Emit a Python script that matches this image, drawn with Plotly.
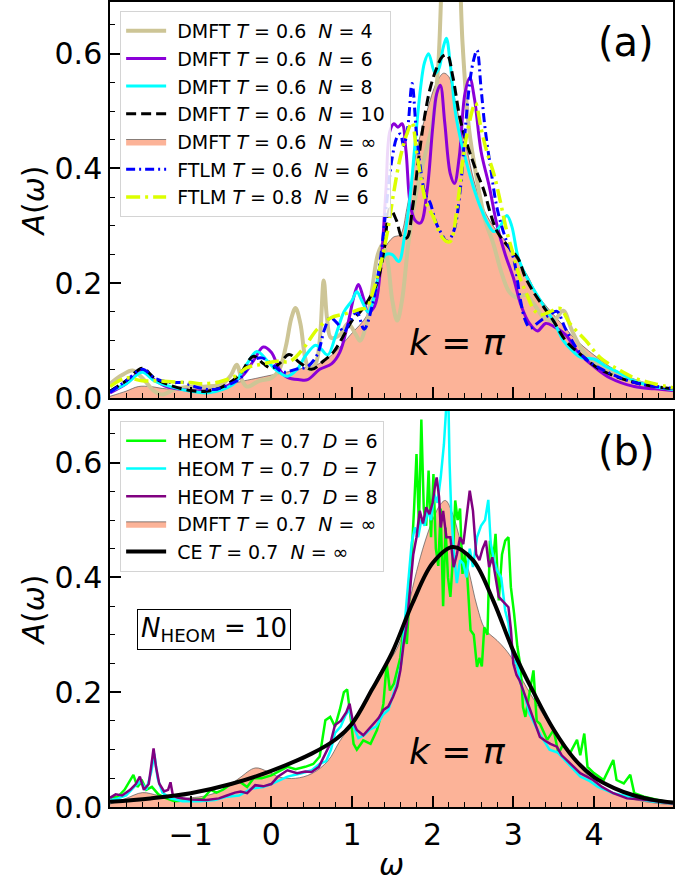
import plotly.graph_objects as go

# ---------------- Panel (a): T = 0.6 spectra at k = pi ----------------
w_dmft4 = [-2.0, -1.85, -1.72, -1.6, -1.45, -1.35, -1.2, -1.0, -0.8, -0.6, -0.5, -0.43, -0.36, -0.3, -0.15,
           0.0, 0.1, 0.18, 0.25, 0.3, 0.36, 0.42, 0.47, 0.55, 0.6, 0.65, 0.69, 0.74, 0.85, 0.95, 1.05, 1.1,
           1.18, 1.25, 1.32, 1.38, 1.44, 1.5, 1.56, 1.62, 1.7, 1.8, 1.9, 2.0, 2.07, 2.15, 2.22, 2.3, 2.37,
           2.45, 2.55, 2.65, 2.75, 2.85, 2.95, 3.05, 3.15, 3.25, 3.38, 3.5, 3.62, 3.72, 3.85, 4.0, 4.2, 4.5,
           4.75, 4.98]
a_dmft4 = [0.025, 0.040, 0.048, 0.035, 0.012, 0.006, 0.015, 0.020, 0.020, 0.025, 0.040, 0.058, 0.030, 0.020, 0.030,
           0.035, 0.050, 0.090, 0.140, 0.157, 0.130, 0.070, 0.050, 0.060, 0.100, 0.205, 0.140, 0.105, 0.110, 0.130, 0.110, 0.100,
           0.130, 0.190, 0.250, 0.268, 0.240, 0.170, 0.135, 0.170, 0.270, 0.360, 0.420, 0.480, 0.580, 0.820, 0.720, 0.850, 0.620,
           0.470, 0.380, 0.310, 0.270, 0.220, 0.185, 0.175, 0.180, 0.165, 0.140, 0.135, 0.152, 0.120, 0.085, 0.062, 0.045, 0.030,
           0.020, 0.013]

w_dmft6 = [-2.0, -1.8, -1.6, -1.45, -1.3, -1.1, -0.9, -0.7, -0.5, -0.35, -0.22, -0.1, 0.0, 0.1, 0.2, 0.35, 0.45,
           0.6, 0.75, 0.85, 0.95, 1.03, 1.08, 1.14, 1.2, 1.28, 1.35, 1.42, 1.47, 1.52, 1.57, 1.62, 1.67, 1.72,
           1.78, 1.85, 1.93, 2.0, 2.05, 2.095, 2.15, 2.22, 2.27, 2.33, 2.4, 2.46, 2.52, 2.6, 2.7, 2.8, 2.9,
           3.0, 3.1, 3.2, 3.3, 3.4, 3.5, 3.65, 3.8, 4.0, 4.2, 4.5, 4.75, 4.98]
a_dmft6 = [0.009, 0.025, 0.047, 0.032, 0.020, 0.015, 0.012, 0.013, 0.025, 0.040, 0.065, 0.089, 0.080, 0.050, 0.036, 0.032, 0.032,
           0.050, 0.060, 0.080, 0.130, 0.180, 0.198, 0.175, 0.150, 0.160, 0.220, 0.360, 0.465, 0.478, 0.472, 0.478, 0.430, 0.340,
           0.310, 0.305, 0.360, 0.470, 0.530, 0.545, 0.480, 0.390, 0.374, 0.420, 0.530, 0.558, 0.520, 0.430, 0.370, 0.300, 0.250,
           0.210, 0.160, 0.130, 0.117, 0.130, 0.125, 0.110, 0.080, 0.055, 0.035, 0.020, 0.016, 0.013]

w_dmft8 = [-2.0, -1.8, -1.6, -1.45, -1.25, -1.0, -0.8, -0.6, -0.45, -0.3, -0.18, -0.05, 0.05, 0.2, 0.32, 0.43, 0.55,
           0.62, 0.7, 0.8, 0.9, 1.0, 1.06, 1.12, 1.2, 1.28, 1.35, 1.42, 1.5, 1.58, 1.65, 1.72, 1.78, 1.85, 1.9,
           1.95, 2.03, 2.08, 2.13, 2.17, 2.22, 2.28, 2.34, 2.42, 2.5, 2.6, 2.68, 2.76, 2.84, 2.92, 2.98, 3.06,
           3.15, 3.25, 3.38, 3.5, 3.62, 3.75, 3.85, 4.0, 4.15, 4.3, 4.5, 4.75, 4.98]
a_dmft8 = [0.012, 0.025, 0.045, 0.030, 0.020, 0.012, 0.009, 0.015, 0.027, 0.060, 0.081, 0.065, 0.050, 0.038, 0.050, 0.075, 0.092,
           0.085, 0.075, 0.110, 0.150, 0.170, 0.185, 0.170, 0.150, 0.180, 0.230, 0.250, 0.250, 0.238, 0.280, 0.350, 0.440, 0.540, 0.585,
           0.600, 0.566, 0.575, 0.610, 0.627, 0.580, 0.500, 0.455, 0.410, 0.370, 0.330, 0.305, 0.290, 0.300, 0.318, 0.300, 0.245,
           0.215, 0.190, 0.160, 0.134, 0.100, 0.080, 0.070, 0.068, 0.055, 0.045, 0.030, 0.020, 0.015]

w_dmft10 = [-2.0, -1.8, -1.6, -1.45, -1.25, -1.0, -0.8, -0.6, -0.4, -0.22, -0.1, 0.0, 0.1, 0.22, 0.35, 0.5, 0.65,
            0.77, 0.9, 1.0, 1.1, 1.2, 1.31, 1.4, 1.47, 1.55, 1.62, 1.68, 1.75, 1.82, 1.9, 1.97, 2.05, 2.12, 2.18,
            2.25, 2.34, 2.43, 2.53, 2.64, 2.72, 2.8, 2.93, 3.06, 3.15, 3.25, 3.38, 3.5, 3.65, 3.86, 4.05, 4.3,
            4.6, 4.98]
a_dmft10 = [0.012, 0.030, 0.052, 0.035, 0.022, 0.013, 0.012, 0.020, 0.040, 0.073, 0.060, 0.052, 0.060, 0.076, 0.062, 0.050, 0.065,
            0.080, 0.110, 0.135, 0.150, 0.170, 0.200, 0.260, 0.330, 0.310, 0.280, 0.279, 0.330, 0.410, 0.490, 0.540, 0.575, 0.595, 0.598,
            0.560, 0.487, 0.441, 0.400, 0.360, 0.320, 0.290, 0.265, 0.243, 0.210, 0.185, 0.158, 0.134, 0.100, 0.073, 0.052, 0.036,
            0.024, 0.016]

w_dmft_inf_a = [-2.0, -1.8, -1.65, -1.5, -1.3, -1.0, -0.7, -0.4, -0.2, 0.0, 0.25, 0.42, 0.58, 0.79, 0.98, 1.19, 1.3,
                1.39, 1.51, 1.6, 1.68, 1.8, 1.93, 2.05, 2.136, 2.2, 2.26, 2.34, 2.43, 2.51, 2.63, 2.75, 2.92, 3.05,
                3.17, 3.3, 3.5, 3.66, 3.75, 4.0, 4.25, 4.5, 4.75, 4.98]
a_dmft_inf_a = [0.003, 0.012, 0.020, 0.020, 0.016, 0.016, 0.017, 0.028, 0.034, 0.040, 0.047, 0.053, 0.059, 0.080, 0.110, 0.145, 0.200,
                0.256, 0.280, 0.285, 0.330, 0.430, 0.500, 0.550, 0.566, 0.560, 0.530, 0.480, 0.430, 0.380, 0.330, 0.300, 0.270, 0.240,
                0.215, 0.180, 0.145, 0.120, 0.105, 0.075, 0.050, 0.033, 0.022, 0.014]

w_ftlm06 = [-2.0, -1.8, -1.6, -1.45, -1.25, -1.1, -0.9, -0.7, -0.5, -0.38, -0.24, -0.12, 0.0, 0.15, 0.3, 0.45, 0.57,
            0.66, 0.73, 0.82, 0.9, 0.98, 1.06, 1.15, 1.25, 1.35, 1.43, 1.5, 1.56, 1.6, 1.64, 1.69, 1.745, 1.8,
            1.86, 1.91, 1.97, 2.03, 2.095, 2.18, 2.26, 2.34, 2.4, 2.46, 2.51, 2.55, 2.6, 2.65, 2.72, 2.8, 2.9,
            3.0, 3.09, 3.15, 3.21, 3.33, 3.45, 3.54, 3.65, 3.86, 4.1, 4.5, 4.98]
a_ftlm06 = [0.010, 0.030, 0.050, 0.035, 0.027, 0.027, 0.018, 0.015, 0.025, 0.035, 0.064, 0.070, 0.060, 0.045, 0.050, 0.055, 0.076,
            0.120, 0.140, 0.130, 0.115, 0.135, 0.150, 0.120, 0.160, 0.240, 0.340, 0.420, 0.455, 0.460, 0.440, 0.470, 0.548, 0.460,
            0.390, 0.354, 0.340, 0.310, 0.290, 0.273, 0.290, 0.360, 0.460, 0.550, 0.590, 0.606, 0.540, 0.470, 0.400, 0.330, 0.280,
            0.245, 0.170, 0.135, 0.122, 0.134, 0.145, 0.151, 0.120, 0.073, 0.050, 0.027, 0.017]

w_ftlm08 = [-2.0, -1.8, -1.6, -1.4, -1.2, -1.0, -0.85, -0.65, -0.45, -0.3, -0.12, 0.07, 0.23, 0.4, 0.57, 0.74, 0.86,
            1.0, 1.1, 1.18, 1.27, 1.35, 1.44, 1.52, 1.6, 1.68, 1.744, 1.8, 1.86, 1.92, 2.01, 2.1, 2.17, 2.22,
            2.31, 2.38, 2.44, 2.53, 2.6, 2.67, 2.76, 2.84, 2.92, 3.0, 3.08, 3.17, 3.25, 3.33, 3.45, 3.58, 3.7,
            3.9, 4.08, 4.3, 4.5, 4.75, 4.98]
a_ftlm08 = [0.020, 0.035, 0.030, 0.030, 0.028, 0.027, 0.025, 0.028, 0.038, 0.053, 0.059, 0.064, 0.064, 0.087, 0.120, 0.140, 0.145,
            0.150, 0.155, 0.157, 0.190, 0.230, 0.290, 0.360, 0.420, 0.460, 0.480, 0.430, 0.380, 0.340, 0.315, 0.284, 0.273, 0.273,
            0.340, 0.420, 0.470, 0.514, 0.470, 0.430, 0.390, 0.342, 0.290, 0.250, 0.210, 0.180, 0.155, 0.145, 0.150, 0.156, 0.130,
            0.100, 0.070, 0.050, 0.035, 0.025, 0.018]

# ---------------- Panel (b): T = 0.7 spectra at k = pi ----------------
w_heom6 = [-2.0, -1.9, -1.82, -1.76, -1.71, -1.66, -1.6, -1.55, -1.48, -1.4, -1.3, -1.2, -1.0, -0.85, -0.75, -0.68,
           -0.6, -0.5, -0.4, -0.3, -0.22, -0.12, 0.0, 0.1, 0.2, 0.3, 0.42, 0.52, 0.6, 0.67, 0.73, 0.79, 0.85,
           0.9, 0.94, 0.98, 1.02, 1.06, 1.14, 1.23, 1.31, 1.36, 1.39, 1.43, 1.47, 1.52, 1.56, 1.6, 1.64, 1.68,
           1.71, 1.74, 1.77, 1.8, 1.83, 1.86, 1.89, 1.92, 1.95, 1.98, 2.01, 2.04, 2.07, 2.1, 2.13, 2.16, 2.19,
           2.22, 2.25, 2.28, 2.31, 2.34, 2.37, 2.4, 2.43, 2.47, 2.51, 2.55, 2.58, 2.61, 2.64, 2.68, 2.71, 2.75,
           2.78, 2.82, 2.86, 2.9, 2.94, 2.97, 3.01, 3.05, 3.09, 3.12, 3.15, 3.2, 3.25, 3.29, 3.33, 3.42, 3.5,
           3.56, 3.62, 3.7, 3.79, 3.83, 3.88, 3.92, 4.0, 4.12, 4.24, 4.28, 4.37, 4.45, 4.5, 4.62, 4.8, 4.98]
a_heom6 = [0.016, 0.018, 0.030, 0.045, 0.056, 0.035, 0.045, 0.030, 0.035, 0.022, 0.015, 0.010, 0.012, 0.014, 0.030, 0.025,
           0.030, 0.040, 0.045, 0.035, 0.050, 0.050, 0.055, 0.062, 0.070, 0.066, 0.070, 0.075, 0.088, 0.151, 0.157, 0.140, 0.170,
           0.200, 0.205, 0.160, 0.110, 0.100, 0.116, 0.110, 0.134, 0.160, 0.180, 0.250, 0.203, 0.215, 0.240, 0.261, 0.314, 0.284,
           0.360, 0.430, 0.520, 0.615, 0.490, 0.675, 0.520, 0.490, 0.586, 0.470, 0.580, 0.450, 0.420, 0.520, 0.350, 0.487, 0.400,
           0.366, 0.430, 0.534, 0.500, 0.520, 0.406, 0.440, 0.400, 0.308, 0.300, 0.244, 0.260, 0.245, 0.313, 0.300, 0.464, 0.430,
           0.476, 0.360, 0.440, 0.464, 0.470, 0.383, 0.337, 0.280, 0.244, 0.174, 0.157, 0.198, 0.238, 0.150, 0.145, 0.117, 0.134,
           0.093, 0.110, 0.093, 0.117, 0.090, 0.128, 0.070, 0.059, 0.047, 0.082, 0.047, 0.041, 0.056, 0.024, 0.018, 0.012, 0.006]

w_heom7 = [-2.0, -1.9, -1.8, -1.7, -1.62, -1.55, -1.49, -1.45, -1.41, -1.35, -1.25, -1.1, -0.9, -0.7, -0.55, -0.4,
           -0.25, -0.1, 0.0, 0.2, 0.35, 0.5, 0.6, 0.68, 0.74, 0.79, 0.86, 0.92, 0.97, 1.02, 1.08, 1.15, 1.22,
           1.3, 1.38, 1.45, 1.52, 1.56, 1.61, 1.66, 1.7, 1.74, 1.78, 1.82, 1.86, 1.9, 1.94, 1.98, 2.02, 2.06,
           2.1, 2.14, 2.17, 2.19, 2.21, 2.23, 2.26, 2.3, 2.34, 2.38, 2.42, 2.46, 2.5, 2.55, 2.6, 2.65, 2.69,
           2.72, 2.76, 2.8, 2.85, 2.9, 2.94, 2.97, 3.01, 3.04, 3.08, 3.13, 3.2, 3.28, 3.36, 3.45, 3.55, 3.65,
           3.75, 3.83, 3.95, 4.05, 4.24, 4.45, 4.7, 4.98]
a_heom7 = [0.012, 0.015, 0.020, 0.035, 0.045, 0.030, 0.060, 0.093, 0.050, 0.025, 0.015, 0.010, 0.010, 0.012, 0.018, 0.020,
           0.032, 0.035, 0.040, 0.053, 0.058, 0.064, 0.075, 0.080, 0.100, 0.129, 0.140, 0.160, 0.170, 0.140, 0.120, 0.125, 0.135,
           0.140, 0.160, 0.169, 0.200, 0.215, 0.250, 0.330, 0.390, 0.460, 0.487, 0.470, 0.500, 0.490, 0.516, 0.500, 0.545, 0.530,
           0.574, 0.632, 0.700, 0.750, 0.600, 0.516, 0.447, 0.390, 0.430, 0.424, 0.400, 0.450, 0.418, 0.470, 0.490, 0.500, 0.535,
           0.460, 0.430, 0.412, 0.400, 0.342, 0.320, 0.284, 0.250, 0.256, 0.220, 0.200, 0.163, 0.140, 0.120, 0.100, 0.095, 0.080,
           0.065, 0.053, 0.045, 0.035, 0.024, 0.018, 0.010, 0.006]

w_heom8 = [-2.0, -1.93, -1.85, -1.75, -1.68, -1.63, -1.58, -1.52, -1.49, -1.46, -1.43, -1.39, -1.33, -1.28, -1.25,
           -1.22, -1.15, -1.0, -0.8, -0.65, -0.55, -0.45, -0.38, -0.3, -0.2, -0.1, 0.0, 0.08, 0.2, 0.32, 0.42,
           0.5, 0.59, 0.67, 0.73, 0.79, 0.86, 0.93, 0.97, 1.01, 1.06, 1.14, 1.2, 1.27, 1.33, 1.39, 1.45, 1.51,
           1.56, 1.6, 1.64, 1.68, 1.72, 1.76, 1.8, 1.84, 1.88, 1.92, 1.96, 2.0, 2.03, 2.05, 2.08, 2.1, 2.13,
           2.17, 2.22, 2.26, 2.3, 2.34, 2.38, 2.42, 2.46, 2.5, 2.54, 2.58, 2.62, 2.66, 2.7, 2.74, 2.78, 2.82,
           2.86, 2.9, 2.94, 2.97, 3.0, 3.04, 3.08, 3.13, 3.2, 3.25, 3.33, 3.4, 3.46, 3.54, 3.6, 3.66, 3.75,
           3.83, 3.99, 4.1, 4.24, 4.41, 4.66, 4.98]
a_heom8 = [0.016, 0.022, 0.020, 0.030, 0.040, 0.053, 0.030, 0.040, 0.070, 0.102, 0.070, 0.041, 0.027, 0.030, 0.043,
           0.020, 0.016, 0.013, 0.012, 0.015, 0.020, 0.025, 0.027, 0.024, 0.038, 0.036, 0.040, 0.053, 0.064, 0.059, 0.062,
           0.061, 0.070, 0.093, 0.110, 0.143, 0.150, 0.165, 0.180, 0.150, 0.134, 0.125, 0.135, 0.145, 0.155, 0.169, 0.175, 0.192,
           0.210, 0.238, 0.284, 0.319, 0.378, 0.440, 0.470, 0.516, 0.494, 0.522, 0.510, 0.530, 0.560, 0.574, 0.540, 0.487, 0.516,
           0.470, 0.470, 0.418, 0.440, 0.470, 0.458, 0.500, 0.551, 0.516, 0.440, 0.430, 0.450, 0.464, 0.418, 0.435, 0.400, 0.366,
           0.360, 0.354, 0.348, 0.310, 0.250, 0.230, 0.220, 0.200, 0.172, 0.151, 0.122, 0.115, 0.110, 0.105, 0.090, 0.082, 0.070,
           0.059, 0.047, 0.035, 0.024, 0.015, 0.012, 0.006]

w_dmft_inf_b = [-2.0, -1.8, -1.6, -1.4, -1.2, -1.0, -0.8, -0.6, -0.4, -0.2, -0.05, 0.1, 0.3, 0.5, 0.7, 0.85, 1.0,
                1.2, 1.35, 1.5, 1.6, 1.7, 1.8, 1.9, 2.0, 2.1, 2.16, 2.25, 2.35, 2.45, 2.55, 2.65, 2.8, 2.9, 3.0,
                3.1, 3.2, 3.4, 3.6, 3.8, 4.0, 4.25, 4.5, 4.75, 4.98]
a_dmft_inf_b = [0.005, 0.015, 0.025, 0.020, 0.015, 0.016, 0.020, 0.030, 0.050, 0.068, 0.062, 0.052, 0.050, 0.058, 0.080, 0.115, 0.145,
                0.190, 0.235, 0.262, 0.290, 0.350, 0.410, 0.460, 0.500, 0.528, 0.534, 0.510, 0.460, 0.410, 0.350, 0.310, 0.290, 0.275, 0.255,
                0.225, 0.200, 0.155, 0.115, 0.075, 0.045, 0.024, 0.013, 0.007, 0.004]

w_ce = [-2.0, -1.5, -1.0, -0.5, 0.0, 0.5, 0.8, 1.0, 1.25, 1.5, 1.75, 2.0, 2.25, 2.5, 2.75, 3.0, 3.25, 3.5, 3.75,
        4.0, 4.25, 4.5, 4.75, 4.98]
a_ce = [0.009, 0.015, 0.024, 0.040, 0.063, 0.093, 0.118, 0.145, 0.205, 0.270, 0.355, 0.425, 0.453, 0.430, 0.360, 0.272,
        0.200, 0.135, 0.085, 0.052, 0.033, 0.020, 0.012, 0.008]

x_ticks = [-1, 0, 1, 2, 3, 4]
y_ticks = [0.0, 0.2, 0.4, 0.6]

FONT = "DejaVu Sans"
SALMON = "#fcb398"
SP = "\u00a0\u00a0"
LEAD = "\u00a0"

fig = go.Figure()


def line(x, y, name, color, width, legend, rank, axes, dash="solid", shape="spline"):
    fig.add_trace(go.Scatter(
        x=x, y=y, mode="lines", name=LEAD + name, legend=legend, legendrank=rank, legendgroup=name,
        line=dict(color=color, width=width, dash=dash, shape=shape),
        xaxis=axes[0], yaxis=axes[1], hoverinfo="skip"))


def filled(x, y, name, legend, rank, axes):
    fig.add_trace(go.Scatter(
        x=x, y=y, mode="lines", name=LEAD + name, legend=legend, legendrank=rank, legendgroup=name,
        fill="tozeroy", fillcolor=SALMON, line=dict(color="#555555", width=0.7, shape="spline"),
        xaxis=axes[0], yaxis=axes[1], hoverinfo="skip"))


A = ("x", "y")
B = ("x2", "y2")

# panel (a)
filled(w_dmft_inf_a, a_dmft_inf_a, f"DMFT <i>T</i> = 0.6{SP}<i>N</i> = ∞", "legend", 5, A)
line(w_dmft4, a_dmft4, f"DMFT <i>T</i> = 0.6{SP}<i>N</i> = 4", "#cdc596", 4, "legend", 1, A)
line(w_dmft6, a_dmft6, f"DMFT <i>T</i> = 0.6{SP}<i>N</i> = 6", "#8b00d8", 3, "legend", 2, A)
line(w_dmft8, a_dmft8, f"DMFT <i>T</i> = 0.6{SP}<i>N</i> = 8", "#00ffff", 3, "legend", 3, A)
line(w_dmft10, a_dmft10, f"DMFT <i>T</i> = 0.6{SP}<i>N</i> = 10", "black", 3, "legend", 4, A, dash="10px,5px")
line(w_ftlm06, a_ftlm06, f"FTLM <i>T</i> = 0.6{SP}<i>N</i> = 6", "#0000ff", 3, "legend", 6, A, dash="9px,4px,2px,4px")
line(w_ftlm08, a_ftlm08, f"FTLM <i>T</i> = 0.8{SP}<i>N</i> = 6", "#dcff00", 3.5, "legend", 7, A, dash="14px,5px,3px,5px")

# panel (b)
filled(w_dmft_inf_b, a_dmft_inf_b, f"DMFT <i>T</i> = 0.7{SP}<i>N</i> = ∞", "legend2", 4, B)
line(w_heom6, a_heom6, f"HEOM <i>T</i> = 0.7{SP}<i>D</i> = 6", "#00ff00", 2.5, "legend2", 1, B, shape="linear")
line(w_heom7, a_heom7, f"HEOM <i>T</i> = 0.7{SP}<i>D</i> = 7", "#00ffff", 2.5, "legend2", 2, B, shape="linear")
line(w_heom8, a_heom8, f"HEOM <i>T</i> = 0.7{SP}<i>D</i> = 8", "#800080", 2.5, "legend2", 3, B, shape="linear")
line(w_ce, a_ce, f"CE <i>T</i> = 0.7{SP}<i>N</i> = ∞", "black", 4, "legend2", 5, B)

axis_common = dict(
    showline=True, linecolor="black", linewidth=1.5, mirror=True,
    ticks="inside", ticklen=11, tickwidth=1.5, tickcolor="black",
    showgrid=False, zeroline=False,
    tickfont=dict(family=FONT, size=30, color="black"),
)

x_common = dict(axis_common, range=[-2.0, 4.98], tickvals=x_ticks,
                minor=dict(ticks="inside", ticklen=5, tickwidth=1, tickcolor="black", dtick=0.2, tick0=0))
y_common = dict(axis_common, range=[0, 0.69], tickvals=y_ticks, tickformat=".1f", ticklabelstandoff=0,
                minor=dict(ticks="inside", ticklen=5, tickwidth=1, tickcolor="black", dtick=0.05, tick0=0),
                title=dict(text="<i>A</i>(<i>ω</i>)", font=dict(family=FONT, size=30, color="black"), standoff=1))

legend_common = dict(
    font=dict(family=FONT, size=19, color="black"),
    bgcolor="rgba(255,255,255,0.85)", bordercolor="#d4d4d4", borderwidth=1,
    xanchor="left", yanchor="top", itemwidth=40, tracegroupgap=0, traceorder="grouped",
)

fig.update_layout(
    width=696, height=882,
    margin=dict(l=110, r=23, t=0, b=75),
    paper_bgcolor="white", plot_bgcolor="white",
    font=dict(family=FONT, color="black"),
    xaxis=dict(x_common, anchor="y", showticklabels=False),
    yaxis=dict(y_common, anchor="x", domain=[0.508, 1.0]),
    xaxis2=dict(x_common, anchor="y2", matches="x",
                title=dict(text="<i>ω</i>", font=dict(family=FONT, size=30, color="black"), standoff=8)),
    yaxis2=dict(y_common, anchor="x2", domain=[0.0, 0.492]),
    legend=dict(legend_common, x=0.018, y=0.989),
    legend2=dict(legend_common, x=0.018, y=0.4796),
    showlegend=True,
)

fig.add_annotation(x=4.40, y=0.621, xref="x", yref="y", text="(a)", showarrow=False,
                   font=dict(family=FONT, size=40, color="black"))
fig.add_annotation(x=4.40, y=0.621, xref="x2", yref="y2", text="(b)", showarrow=False,
                   font=dict(family=FONT, size=40, color="black"))
fig.add_annotation(x=2.31, y=0.097, xref="x", yref="y", text="<i>k</i> = <i>π</i>", showarrow=False,
                   font=dict(family=FONT, size=36, color="black"))
fig.add_annotation(x=2.31, y=0.096, xref="x2", yref="y2", text="<i>k</i> = <i>π</i>", showarrow=False,
                   font=dict(family=FONT, size=36, color="black"))
fig.add_annotation(x=-0.707, y=0.31, xref="x2", yref="y2",
                   text="<i>N</i><sub>HEOM</sub> = 10", showarrow=False,
                   font=dict(family=FONT, size=26, color="black"),
                   bordercolor="black", borderwidth=1, borderpad=3, bgcolor="white")

fig.write_html("out.html")
